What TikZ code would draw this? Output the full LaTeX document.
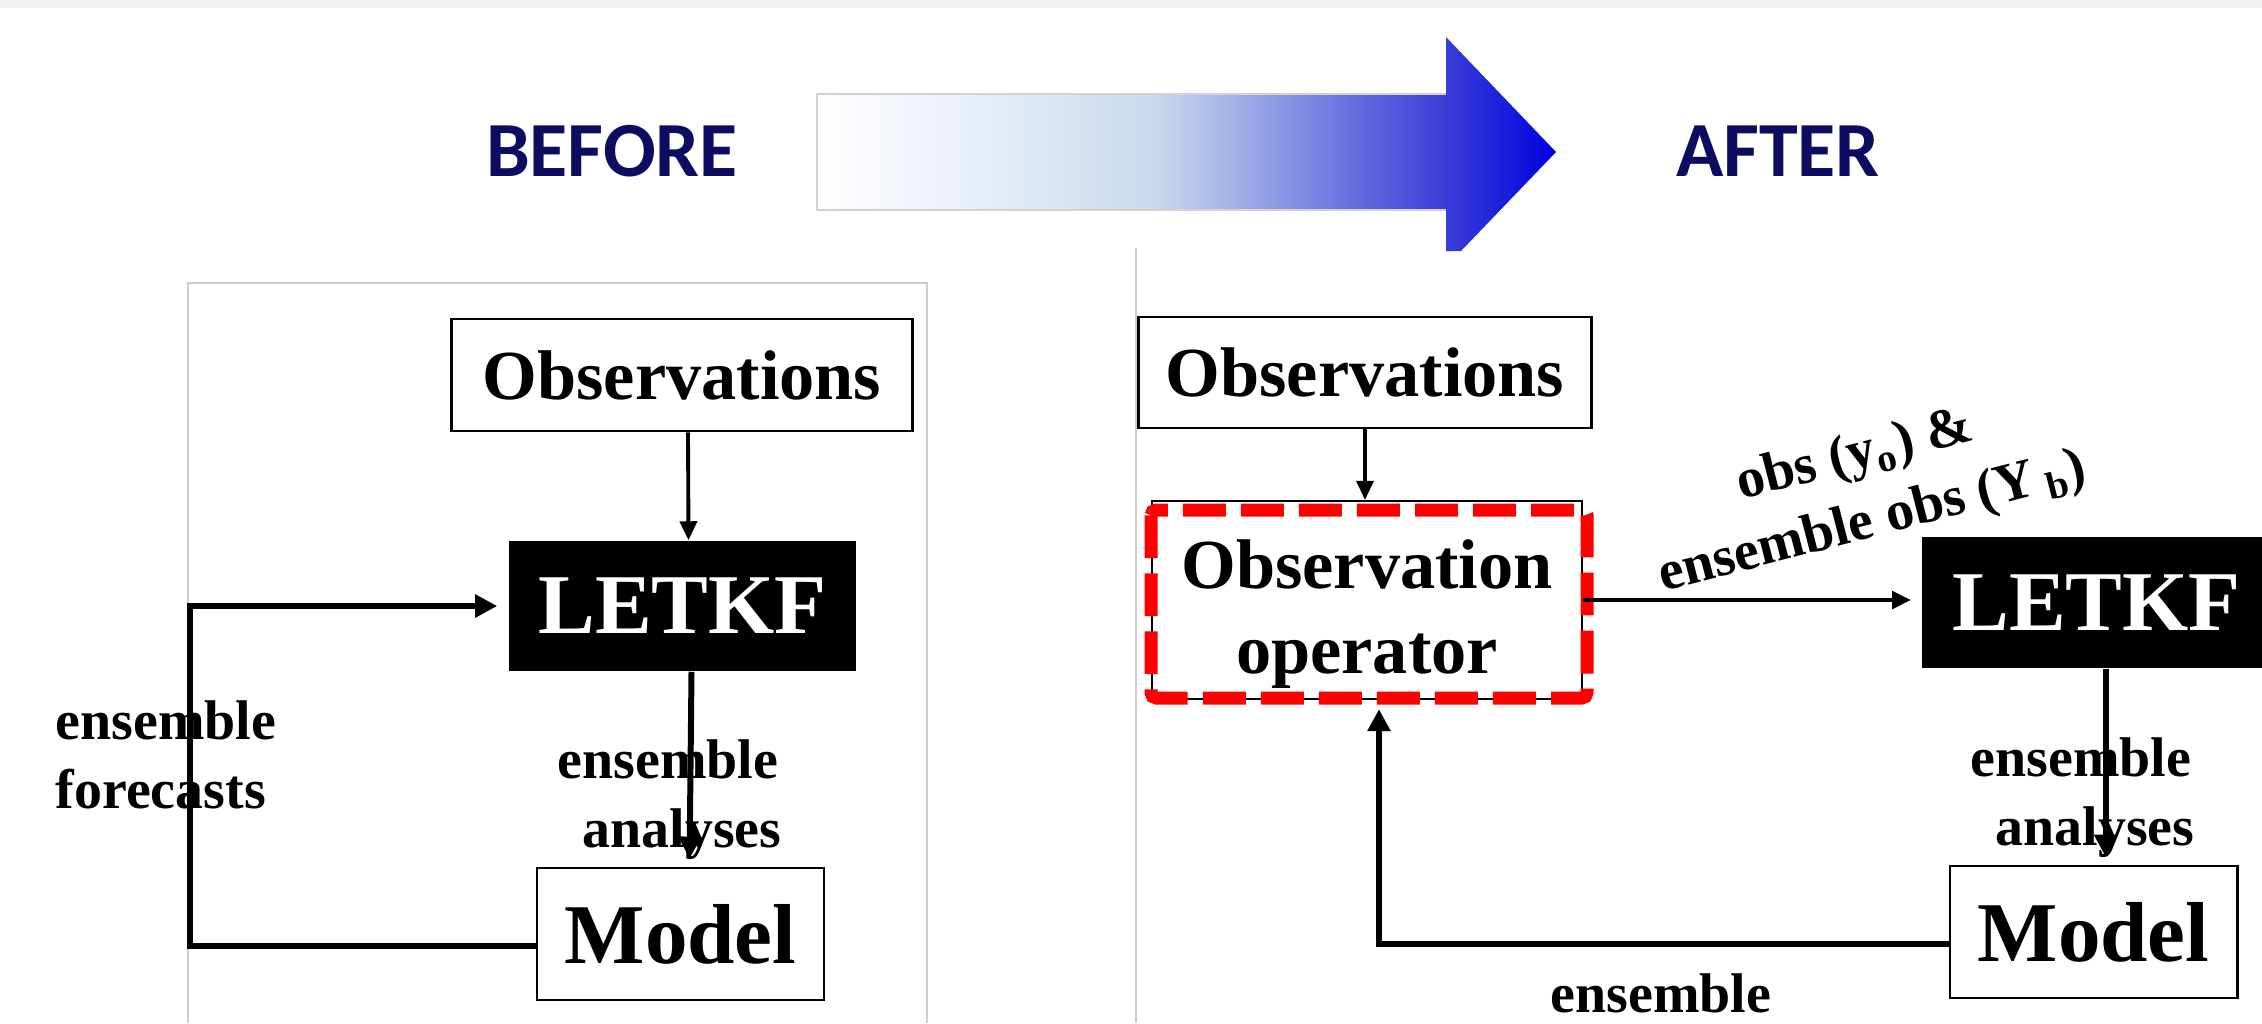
\documentclass[tikz,border=0pt]{standalone}
\usepackage{fontspec}
\setmainfont{Liberation Serif}
\newfontfamily\headfont{Carlito}
\usetikzlibrary{arrows.meta}

\definecolor{navy}{RGB}{12,12,96}
\definecolor{panelgray}{RGB}{205,205,205}
\definecolor{topbar}{RGB}{240,240,240}
\definecolor{dashred}{RGB}{255,0,0}
\definecolor{shadeA}{RGB}{238,242,250}
\definecolor{shadeB}{RGB}{200,216,238}
\definecolor{shadeC}{RGB}{168,182,232}
\definecolor{shadeD}{RGB}{128,144,228}
\definecolor{shadeE}{RGB}{90,100,220}
\definecolor{shadeF}{RGB}{58,62,216}
\definecolor{shadeG}{RGB}{0,0,221}

\pgfdeclarehorizontalshading{shiftshade}{100bp}{color(0bp)=(white); color(25bp)=(white);
  color(33bp)=(shadeA); color(48bp)=(shadeB); color(52.5bp)=(shadeC); color(57.5bp)=(shadeD);
  color(62.5bp)=(shadeE); color(67.5bp)=(shadeF); color(75bp)=(shadeG); color(100bp)=(shadeG)}

\begin{document}
\begin{tikzpicture}[x=0.01cm,y=-0.01cm,
box/.style={draw,line width=0.8pt,inner sep=0pt,align=center,font=\bfseries\fontsize{20}{24.2}\selectfont},
bigtext/.style={font=\bfseries\fontsize{24.2}{29}\selectfont},
kfbox/.style={fill=black,text=white,inner sep=0pt,bigtext},
lbl/.style={inner sep=0pt,align=left,font=\bfseries\fontsize{15.9}{19.6}\selectfont},
heading/.style={text=navy,inner sep=0pt,font=\headfont\bfseries\fontsize{22.2}{26}\selectfont},
arrow/.style={-{Triangle[length=0.19cm,width=0.17cm]},line width=1.1pt},
cycleline/.style={-{Triangle[length=0.22cm,width=0.22cm]},line width=1.7pt}
]
\useasboundingbox (0,0) rectangle (2262,1023);
\fill[white] (0,0) rectangle (2262,1023);
\fill[topbar] (0,0) rectangle (2262,8);

% before -> after arrow
\shade[shading=shiftshade,shading angle=0] (817,94) -- (1446,94) -- (1446,37) -- (1556,152)
  -- (1461,251) -- (1446,251) -- (1446,210) -- (817,210) -- cycle;
\draw[gray!35,line width=0.4pt] (1446,94) -- (817,94) -- (817,210) -- (1446,210);
\node[heading] (before) at (612,151) {BEFORE};
\node[heading] (after) at (1778,151) {AFTER};

% panels
\draw[panelgray,line width=0.3pt] (188,1023) -- (188,283) -- (927,283) -- (927,1023);
\draw[panelgray,line width=0.3pt] (1136,248) -- (1136,1023);

% before
\node[box,minimum width=4.6cm,minimum height=1.12cm] (obsL) at (682,375) {Observations};
\node[kfbox,minimum width=3.47cm,minimum height=1.30cm] (kfL) at (682.5,606) {LETKF};
\node[box,bigtext,minimum width=2.87cm,minimum height=1.32cm] (modelL) at (680.5,934) {Model};
\coordinate (fcL) at (190,775);
\node[lbl,anchor=west] (fcLbl) at (55,755) {ensemble\\forecasts};
\node[lbl,anchor=west] (anLblL) at (557,800) {ensemble\\\hspace*{0.25cm}analyses};
\draw[arrow] ([xshift=0.06cm]obsL.south) -- ([xshift=0.06cm]kfL.north);
\draw[cycleline,shorten >=0.08cm] ([xshift=0.09cm]kfL.south) -- ([xshift=0.09cm]modelL.north);
\draw[cycleline,shorten >=0.11cm] ([yshift=-0.12cm]modelL.west) -| (fcL) |- (kfL.west);

% after
\node[box,minimum width=4.52cm,minimum height=1.11cm] (obsR) at (1365,372.5) {Observations};
\node[box,line width=0.6pt,minimum width=4.30cm,minimum height=1.98cm] (opR) at (1367,600) {\rule{0pt}{0.76cm}Observation\\operator};
\draw[dashred,line width=3.7pt,dash pattern=on 12.2pt off 4.3pt,rounded corners=1.5pt] (1151,510) rectangle (1587,698);
\node[kfbox,minimum width=3.49cm,minimum height=1.31cm] (kfR) at (2096.5,602.5) {LETKF};
\node[box,bigtext,minimum width=2.87cm,minimum height=1.32cm] (modelR) at (2093.5,932) {Model};
\node[lbl,align=center,rotate=14.5] (obsLbl) at (1864,490) {obs (y\textsubscript{o}) \&\\ensemble obs (Y\,\textsubscript{b})};
\node[lbl,anchor=west] (anLblR) at (1970,798) {ensemble\\\hspace*{0.25cm}analyses};
\node[lbl,anchor=base] (efLblR) at (1661,1012) {ensemble};
\draw[arrow,line width=1pt] (obsR.south) -- (obsR.south |- opR.north);
\draw[arrow,line width=1.4pt,shorten >=0.1cm] (opR.east) -- (opR.east -| kfR.west);
\draw[cycleline,shorten >=0.08cm] ([xshift=0.09cm]kfR.south) -- ([xshift=0.09cm]kfR.south |- modelR.north);
\draw[cycleline,shorten >=0.09cm] ([yshift=-0.12cm]modelR.west) -| ([xshift=0.12cm]opR.south);
\end{tikzpicture}
\end{document}
